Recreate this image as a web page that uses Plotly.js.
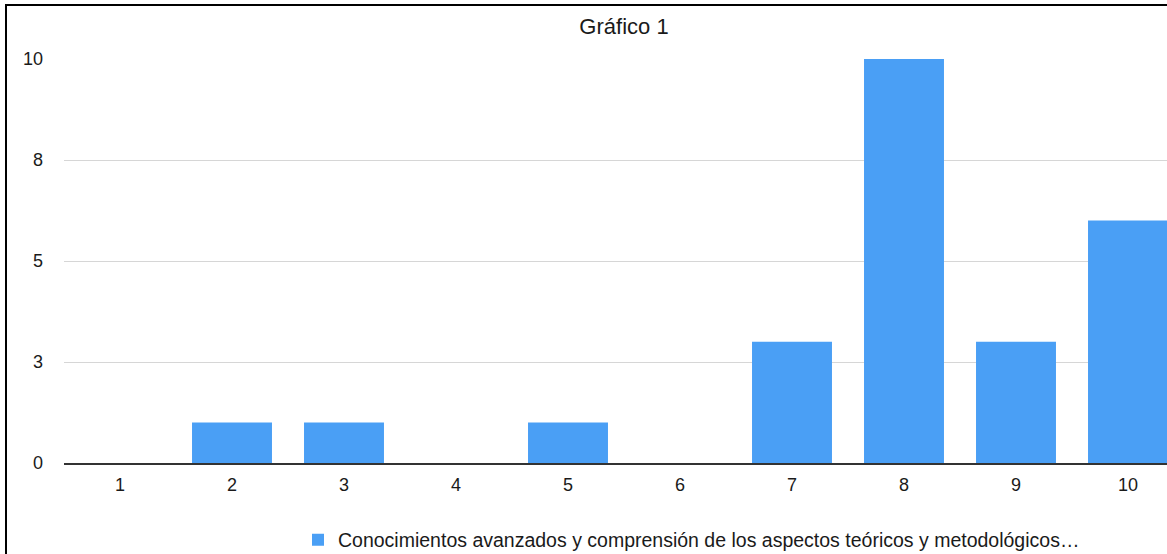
<!DOCTYPE html>
<html>
<head>
<meta charset="utf-8">
<script src="https://cdn.plot.ly/plotly-3.0.1.min.js"></script>
<style>
  html, body { margin: 0; padding: 0; width: 1167px; height: 554px; overflow: hidden; background: #fff; }
  #chart { position: absolute; left: 0; top: 0; }
  #frameL { position: absolute; left: 5px; top: 4px; width: 2px; height: 560px; background: #000; }
  #frameT { position: absolute; left: 5px; top: 4px; width: 1200px; height: 2px; background: #000; }
</style>
</head>
<body>
<div id="chart"></div>
<div id="frameL"></div>
<div id="frameT"></div>
<script>
const categories = [1, 2, 3, 4, 5, 6, 7, 8, 9, 10];
const values = [0, 1, 1, 0, 1, 0, 3, 10, 3, 6];
const seriesName = "Conocimientos avanzados y comprensión de los aspectos teóricos y metodológicos…";
const yTickVals = [0, 2.5, 5, 7.5, 10];
const yTickText = ["0", "3", "5", "8", "10"];
const xTickText = ["1", "2", "3", "4", "5", "6", "7", "8", "9", "10"];

const font = "Liberation Sans, Arial, Helvetica, sans-serif";

Plotly.newPlot("chart", [{
  type: "bar",
  x: categories,
  y: values,
  name: seriesName,
  marker: { color: "#4A9FF5" },
  showlegend: true
}], {
  width: 1184,
  height: 554,
  margin: { l: 64, r: 0, t: 59, b: 91, autoexpand: false },
  paper_bgcolor: "#fff",
  plot_bgcolor: "#fff",
  bargap: 0.286,
  font: { family: font, color: "#1a1a1a", size: 18 },
  title: { text: "Gráfico 1", font: { family: font, size: 22, color: "#1a1a1a" }, x: 0.5, xref: "paper", xanchor: "center", y: 1 - 26 / 554, yref: "container", yanchor: "middle" },
  xaxis: {
    range: [0.5, 10.5],
    tickvals: categories,
    ticktext: xTickText,
    ticks: "",
    showgrid: false,
    zeroline: false,
    showline: true,
    linecolor: "#333",
    linewidth: 2,
    tickfont: { family: font, size: 18, color: "#1a1a1a" },
    ticklabelstandoff: 4,
    automargin: false,
    fixedrange: true
  },
  yaxis: {
    range: [0, 10],
    tickvals: yTickVals,
    ticktext: yTickText,
    ticks: "",
    showgrid: true,
    gridcolor: "#d6d6d6",
    gridwidth: 1,
    zeroline: false,
    showline: false,
    tickfont: { family: font, size: 18, color: "#1a1a1a" },
    ticklabelstandoff: 20,
    automargin: false,
    fixedrange: true
  },
  showlegend: true,
  legend: {
    orientation: "h",
    x: (312 - 64 - 14) / 1120,
    xanchor: "left",
    y: -(540 - 463) / 404,
    yanchor: "middle",
    font: { family: font, size: 19.5, color: "#1a1a1a" },
    bgcolor: "rgba(0,0,0,0)"
  }
}, { staticPlot: true });
</script>
</body>
</html>
